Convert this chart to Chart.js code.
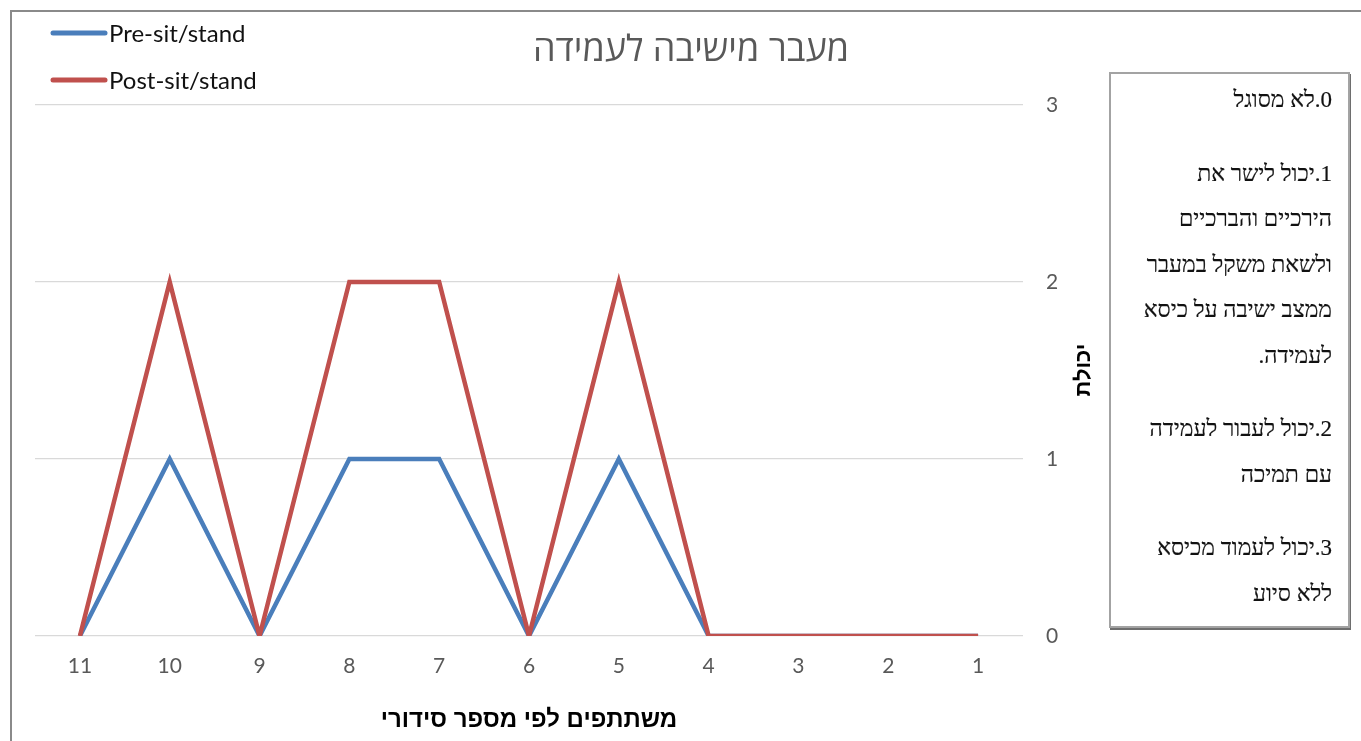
<!DOCTYPE html>
<html lang="he">
<head>
<meta charset="utf-8">
<title>מעבר מישיבה לעמידה</title>
<script src="https://cdn.jsdelivr.net/npm/chart.js@4/dist/chart.umd.min.js"></script>
<style>
  html, body { margin: 0; padding: 0; background: #fff; }
  body { width: 1361px; height: 741px; overflow: hidden; position: relative; }
  #frame {
    position: absolute; left: 10px; top: 10px; width: 1400px; height: 800px;
    border: 2px solid #8a8a8a; box-sizing: border-box;
  }
  #wrap { position: absolute; left: 0; top: 0; width: 1361px; height: 741px; }
  #scaleNote {
    position: absolute; left: 1109px; top: 72px; width: 241px; height: 556px;
    box-sizing: border-box; border: 2px solid #a3a3a3;
    box-shadow: 1px 2px 0 #6e6e6e;
    background: #fff;
    direction: rtl; text-align: right;
    padding: 3px 16px 0 2px;
    font-family: 'Liberation Serif', 'DejaVu Serif', serif;
    font-size: 23px; color: #111; line-height: 45.5px;
    -webkit-text-stroke: 0.2px #111;
  }
  #scaleNote p { margin: 0 0 28px 0; white-space: nowrap; }
</style>
</head>
<body>
<div id="frame"></div>
<div id="wrap"><canvas id="chart" width="1361" height="741"></canvas></div>
<div id="scaleNote"></div>
<script>
// Participants by serial number; the axis runs right-to-left (11 … 1)
const participants = ['1', '2', '3', '4', '5', '6', '7', '8', '9', '10', '11'];
const preScores  = [0, 0, 0, 0, 1, 0, 1, 1, 0, 1, 0];
const postScores = [0, 0, 0, 0, 2, 0, 2, 2, 0, 2, 0];
const seriesNames = ['Pre-sit/stand', 'Post-sit/stand'];
const seriesColors = ['#4a7ebb', '#c0504d'];
const scoreTicks = [0, 1, 2, 3];

const chartTitle = 'מעבר מישיבה לעמידה';
const xTitle = 'משתתפים לפי מספר סידורי';
const yTitle = 'יכולת';

// Ability scale legend shown beside the chart
const scaleLevels = [
  ['0.לא מסוגל'],
  ['1.יכול לישר את', 'הירכיים והברכיים', 'ולשאת משקל במעבר', 'ממצב ישיבה על כיסא', 'לעמידה.'],
  ['2.יכול לעבור לעמידה', 'עם תמיכה'],
  ['3.יכול לעמוד מכיסא', 'ללא סיוע']
];

const note = document.getElementById('scaleNote');
scaleLevels.forEach(lines => {
  const p = document.createElement('p');
  lines.forEach((line, i) => {
    if (i) p.appendChild(document.createElement('br'));
    p.appendChild(document.createTextNode(line));
  });
  note.appendChild(p);
});

// Title, stacked legend and rotated value-axis caption
const decorations = {
  id: 'decorations',
  afterDraw(chart) {
    const ctx = chart.ctx;
    ctx.save();

    ctx.fillStyle = '#595959';
    ctx.font = '36px "Open Sans", "DejaVu Sans", sans-serif';
    ctx.textAlign = 'center';
    ctx.textBaseline = 'middle';
    ctx.direction = 'rtl';
    ctx.fillText(chartTitle, 691, 51);

    ctx.direction = 'ltr';
    ctx.textAlign = 'left';
    ctx.font = '24px Lato, "Open Sans", sans-serif';
    chart.data.datasets
      .slice()
      .sort((a, b) => a.legendIndex - b.legendIndex)
      .forEach((ds, i) => {
        const y = 33 + i * 47;
        ctx.strokeStyle = ds.borderColor;
        ctx.lineWidth = 5;
        ctx.lineCap = 'round';
        ctx.beginPath();
        ctx.moveTo(53, y);
        ctx.lineTo(105, y);
        ctx.stroke();
        ctx.fillStyle = '#111';
        ctx.fillText(ds.label, 109, y + 1);
      });

    ctx.translate(1084, 370);
    ctx.rotate(-Math.PI / 2);
    ctx.direction = 'rtl';
    ctx.textAlign = 'center';
    ctx.fillStyle = '#000';
    ctx.font = 'bold 22px "Liberation Sans", "DejaVu Sans", sans-serif';
    ctx.fillText(yTitle, 0, 0);

    ctx.restore();
  }
};

new Chart(document.getElementById('chart'), {
  type: 'line',
  data: {
    labels: participants,
    datasets: [
      {
        label: seriesNames[0], legendIndex: 0, data: preScores,
        borderColor: seriesColors[0], backgroundColor: seriesColors[0],
        borderWidth: 4.5, pointRadius: 0, tension: 0, order: 2,
        borderJoinStyle: 'miter'
      },
      {
        label: seriesNames[1], legendIndex: 1, data: postScores,
        borderColor: seriesColors[1], backgroundColor: seriesColors[1],
        borderWidth: 4.5, pointRadius: 0, tension: 0, order: 1,
        borderJoinStyle: 'miter'
      }
    ]
  },
  options: {
    responsive: false,
    animation: false,
    layout: { padding: { left: 35, top: 105, right: 298, bottom: 0 } },
    plugins: {
      legend: { display: false },
      title: { display: false },
      tooltip: { enabled: false }
    },
    scales: {
      x: {
        type: 'category',
        reverse: true,
        offset: true,
        grid: { display: false, drawTicks: false },
        border: { display: false },
        ticks: {
          color: '#595959', padding: 18, maxRotation: 0,
          font: { family: 'Lato, "Open Sans", sans-serif', size: 21 }
        },
        title: {
          display: true, text: xTitle, color: '#000',
          font: { family: '"Liberation Sans", "DejaVu Sans", sans-serif', size: 24, weight: 'bold' },
          padding: { top: 0, bottom: 6 }
        },
        afterFit(scale) { scale.height = 105; }
      },
      y: {
        position: 'right',
        min: scoreTicks[0],
        max: scoreTicks[scoreTicks.length - 1],
        afterBuildTicks(scale) { scale.ticks = scoreTicks.map(v => ({ value: v })); },
        grid: { color: '#d9d9d9', lineWidth: 1.3, drawTicks: false },
        border: { display: false },
        ticks: {
          color: '#595959', padding: 23,
          font: { family: 'Lato, "Open Sans", sans-serif', size: 21 }
        },
        afterFit(scale) { scale.width = 40; }
      }
    }
  },
  plugins: [decorations]
});
</script>
</body>
</html>
